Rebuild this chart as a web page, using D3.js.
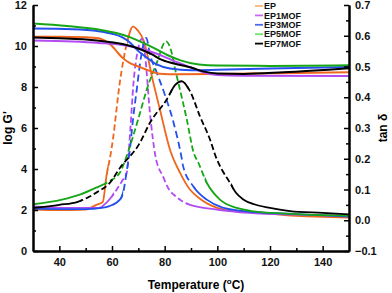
<!DOCTYPE html>
<html>
<head>
<meta charset="utf-8">
<script src="https://cdn.jsdelivr.net/npm/d3@7"></script>
<style>
  body { margin: 0; background: #fff; }
  text { font-family: "Liberation Sans", Arial, sans-serif; font-weight: bold; }
</style>
</head>
<body>
<div id="chart"></div>
<script>
const seriesNames = ['EP', 'EP1MOF', 'EP3MOF', 'EP5MOF', 'EP7MOF'];

// log G' (solid), [temperature, value]
const epG = [[30,10.45],[40,10.45],[50,10.43],[55,10.38],[58,10.2],[60,10.0],[62,9.7],[64,9.42],[67,9.15],[70,9.0],[74,8.8],[78,8.65],[85,8.62],[100,8.63],[120,8.67],[150,8.72]];
const ep1G = [[30,10.27],[45,10.22],[55,10.15],[64,10.05],[70,9.9],[77,9.62],[83,9.3],[90,8.95],[95,8.7],[100,8.58],[110,8.55],[150,8.54]];
const ep3G = [[30,10.85],[45,10.82],[55,10.72],[60,10.6],[64,10.42],[67,10.15],[70,9.75],[73,9.45],[77,9.1],[82,8.9],[90,8.82],[100,8.84],[120,8.9],[150,8.97]];
const ep5G = [[30,11.1],[43,10.98],[55,10.8],[62,10.62],[67,10.42],[71,10.2],[76,9.9],[81,9.56],[86,9.3],[93,9.1],[100,9.05],[120,9.03],[150,9.06]];
const ep7G = [[30,10.42],[40,10.38],[49,10.33],[59,10.2],[64,10.1],[70,9.88],[75,9.6],[79,9.32],[85,9.1],[90,8.95],[95,8.75],[100,8.66],[110,8.64],[125,8.72],[150,8.92]];

// tan delta, [temperature, value]
const epTan = [[30,0.035],[40,0.033],[50,0.035],[54,0.05],[56.5,0.06],[58,0.15],[59.2,0.2],[60.3,0.26],[63,0.45],[65.5,0.57],[68,0.63],[70,0.615],[72,0.585],[75.7,0.447],[78.2,0.36],[82,0.23],[85.8,0.155],[89.6,0.1],[93.4,0.07],[100,0.04],[106,0.03],[112,0.028],[128,0.015],[150,0.009]];
const ep1Tan = [[30,0.045],[45,0.04],[55,0.04],[58,0.058],[61.8,0.1],[64,0.13],[65.6,0.155],[67,0.3],[68.1,0.44],[70,0.56],[71.2,0.59],[72.5,0.54],[74.4,0.35],[76.5,0.208],[79.5,0.14],[81,0.11],[84.6,0.075],[89.6,0.05],[99.8,0.035],[112,0.024],[130,0.018],[150,0.015]];
const ep3Tan = [[30,0.038],[50,0.036],[56,0.04],[59,0.046],[63,0.067],[64.5,0.1],[65.5,0.155],[66.8,0.23],[68,0.33],[69.4,0.425],[71,0.53],[73,0.593],[74.4,0.54],[77,0.48],[80,0.41],[83.3,0.32],[86.5,0.2],[87,0.176],[90.9,0.11],[96,0.067],[102,0.041],[110,0.03],[130,0.02],[150,0.012]];
const ep5Tan = [[30,0.052],[41,0.067],[48,0.084],[54,0.106],[59,0.127],[63,0.155],[66,0.22],[70,0.33],[73.2,0.425],[77,0.512],[80.5,0.582],[82.5,0.55],[84,0.49],[85.2,0.447],[88.4,0.328],[91,0.22],[92.8,0.187],[96,0.122],[101,0.067],[107.4,0.04],[113,0.03],[130,0.02],[150,0.015]];
const ep7Tan = [[30,0.04],[40,0.05],[47,0.06],[51,0.075],[55,0.095],[59,0.12],[63,0.17],[70.6,0.252],[74.4,0.317],[80.8,0.393],[84,0.44],[86.5,0.452],[89.6,0.42],[93.4,0.338],[97.2,0.263],[99.8,0.198],[101.7,0.165],[104.8,0.122],[107,0.09],[110,0.067],[114,0.052],[120,0.04],[127.6,0.03],[140,0.024],[150,0.019]];

const gSeries = [epG, ep1G, ep3G, ep5G, ep7G];
const tanSeries = [epTan, ep1Tan, ep3Tan, ep5Tan, ep7Tan];

const xTicks = [40, 60, 80, 100, 120, 140];
const xMinor = [50, 70, 90, 110, 130];
const gTicks = [0, 2, 4, 6, 8, 10, 12];
const gMinor = [1, 3, 5, 7, 9, 11];
const tanTicks = [-0.1, 0.0, 0.1, 0.2, 0.3, 0.4, 0.5, 0.6, 0.7];
const tanMinor = [-0.05, 0.05, 0.15, 0.25, 0.35, 0.45, 0.55, 0.65];

const colors = ['#f0661c', '#b24cf2', '#2450ee', '#16a616', '#000000'];
const legendColors = ['#f8b878', '#c46af5', '#4a6af0', '#70e070', '#000000'];
// temperature ranges where the tan delta trace looks dashed
const dashRanges = [[[58, 66.5]], [[60, 89]], [[63.5, 92]], [[57, 96]], [[48, 83], [88, 106]]];
const dashPatterns = ['6,3', '6,3', '7,4', '6,3', '6,3'];

const dim = { width: 392, height: 293, left: 33, right: 349, top: 5, bottom: 251 };

const svg = d3.select('#chart').append('svg')
  .attr('width', dim.width)
  .attr('height', dim.height);

const x = d3.scaleLinear().domain([30, 150]).range([dim.left, dim.right]);
const yG = d3.scaleLinear().domain([0, 12]).range([dim.bottom, dim.top]);
const yTan = d3.scaleLinear().domain([-0.1, 0.7]).range([dim.bottom, dim.top]);

const defs = svg.append('defs');

// clip paths for dashed / solid parts of each tan delta trace
dashRanges.forEach((ranges, i) => {
  const dc = defs.append('clipPath').attr('id', 'dash' + i);
  ranges.forEach(r => dc.append('rect')
    .attr('x', x(r[0])).attr('y', 0)
    .attr('width', x(r[1]) - x(r[0])).attr('height', dim.height));
  const sc = defs.append('clipPath').attr('id', 'solid' + i);
  let start = 30;
  ranges.concat([[150, 150]]).forEach(r => {
    sc.append('rect')
      .attr('x', x(start) - 2).attr('y', 0)
      .attr('width', Math.max(0, x(r[0]) - x(start)) + 4).attr('height', dim.height);
    start = r[1];
  });
});

const lineG = d3.line().x(d => x(d[0])).y(d => yG(d[1])).curve(d3.curveMonotoneX);
const lineTan = d3.line().x(d => x(d[0])).y(d => yTan(d[1])).curve(d3.curveMonotoneX);

const ctr = svg.append('g');

tanSeries.forEach((s, i) => {
  ctr.append('path')
    .attr('d', lineTan(s))
    .attr('fill', 'none')
    .attr('stroke', colors[i])
    .attr('stroke-width', 1.8)
    .attr('clip-path', `url(#solid${i})`);
  ctr.append('path')
    .attr('d', lineTan(s))
    .attr('fill', 'none')
    .attr('stroke', colors[i])
    .attr('stroke-width', 1.8)
    .attr('stroke-dasharray', dashPatterns[i])
    .attr('clip-path', `url(#dash${i})`);
});

gSeries.forEach((s, i) => {
  ctr.append('path')
    .attr('d', lineG(s))
    .attr('fill', 'none')
    .attr('stroke', colors[i])
    .attr('stroke-width', 2);
});

// axes
function styleAxis(g) {
  g.select('.domain').attr('stroke-width', 2);
  g.selectAll('.tick line').attr('stroke-width', 1.5);
  g.selectAll('text').attr('font-size', 11).attr('font-weight', 'bold')
    .attr('font-family', '"Liberation Sans", Arial, sans-serif').attr('fill', '#111');
}

svg.append('g')
  .attr('transform', `translate(0,${dim.bottom})`)
  .call(d3.axisBottom(x).tickValues(xTicks).tickSize(-5).tickSizeOuter(0).tickPadding(7).tickFormat(d3.format('d')))
  .call(styleAxis);
svg.append('g')
  .attr('transform', `translate(0,${dim.bottom})`)
  .call(d3.axisBottom(x).tickValues(xMinor).tickSize(-3).tickSizeOuter(0).tickFormat(''))
  .call(styleAxis);

svg.append('g')
  .attr('transform', `translate(${dim.left},0)`)
  .call(d3.axisLeft(yG).tickValues(gTicks).tickSize(-5).tickSizeOuter(0).tickPadding(6).tickFormat(d3.format('d')))
  .call(styleAxis);
svg.append('g')
  .attr('transform', `translate(${dim.left},0)`)
  .call(d3.axisLeft(yG).tickValues(gMinor).tickSize(-3).tickSizeOuter(0).tickFormat(''))
  .call(styleAxis);

svg.append('g')
  .attr('transform', `translate(${dim.right},0)`)
  .call(d3.axisRight(yTan).tickValues(tanTicks).tickSize(-5).tickSizeOuter(0).tickPadding(6).tickFormat(d3.format('.1f')))
  .call(styleAxis);
svg.append('g')
  .attr('transform', `translate(${dim.right},0)`)
  .call(d3.axisRight(yTan).tickValues(tanMinor).tickSize(-3).tickSizeOuter(0).tickFormat(''))
  .call(styleAxis);

// axis titles
svg.append('text')
  .attr('transform', `translate(12,${(dim.top + dim.bottom) / 2}) rotate(-90)`)
  .attr('text-anchor', 'middle')
  .attr('font-size', 12)
  .text("log G'");

svg.append('text')
  .attr('transform', `translate(387,${(dim.top + dim.bottom) / 2}) rotate(-90)`)
  .attr('text-anchor', 'middle')
  .attr('font-size', 12)
  .text('tan δ');

const xt = svg.append('text')
  .attr('x', 196).attr('y', 289)
  .attr('text-anchor', 'middle')
  .attr('font-size', 12);
xt.append('tspan').text('Temperature (');
xt.append('tspan').attr('font-size', 8).attr('dy', -5).text('o');
xt.append('tspan').attr('dy', 5).text('C)');

// legend
const legend = svg.append('g').attr('transform', 'translate(255,6)');
seriesNames.forEach((name, i) => {
  const row = legend.append('g').attr('transform', `translate(0,${i * 9.4})`);
  row.append('line').attr('x1', 0).attr('x2', 8).attr('y1', 0).attr('y2', 0)
    .attr('stroke', legendColors[i]).attr('stroke-width', 1.8);
  row.append('text').attr('x', 9).attr('y', 3.2)
    .attr('font-size', 9).attr('fill', '#111').text(name);
});
</script>
</body>
</html>
